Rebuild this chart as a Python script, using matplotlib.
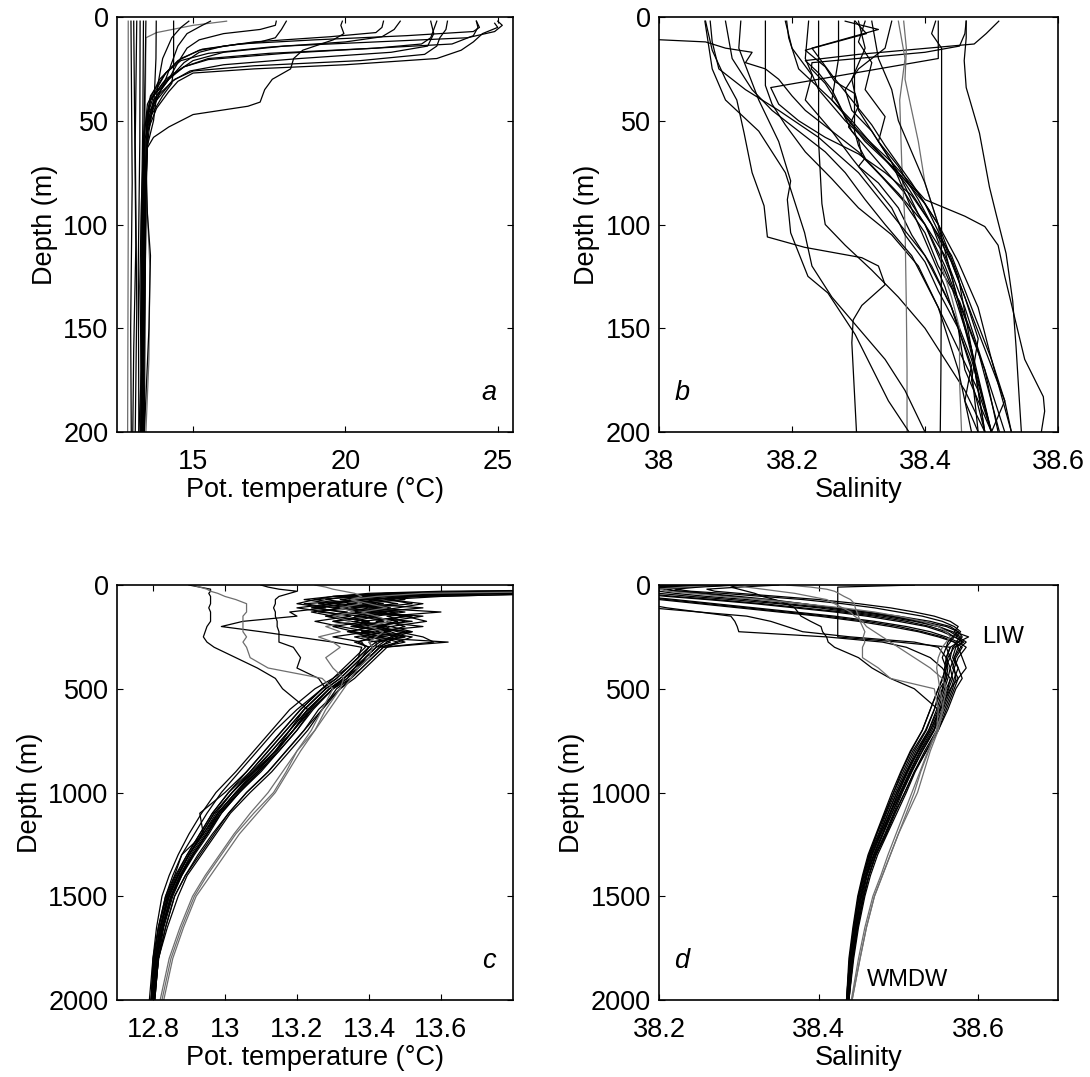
import matplotlib
matplotlib.use("Agg")
import matplotlib.pyplot as plt

plt.rcParams["font.family"] = ["Liberation Sans", "DejaVu Sans"]

BLACK = "#000000"
GRAY = "#6e6e6e"

# ---- panel a: potential temperature, upper 200 m (T list, depth list) ----
TEMP_A = [
    [25.0, 25.15, 24.9, 24.0, 21.0, 18.0, 16.0, 15.0, 14.5, 14.0, 13.6, 13.4, 13.35, 13.3, 13.32],
    [24.3, 24.35, 24.2, 23.5, 21.0, 17.5, 15.5, 14.7, 14.2, 13.7, 13.45, 13.35, 13.3],
    [23.35, 23.3, 23.1, 23.0, 22.6, 20.5, 17.0, 15.0, 14.4, 13.9, 13.55, 13.4, 13.38, 13.35],
    [23.0, 22.9, 22.8, 22.5, 21.0, 18.0, 15.5, 14.7, 14.1, 13.6, 13.4, 13.32, 13.3],
    [24.9, 25.0, 24.5, 24.2, 23.8, 23.0, 20.0, 17.0, 15.0, 14.5, 14.2, 13.8, 13.5, 13.4, 13.35],
    [21.8, 21.6, 21.2, 20.0, 17.5, 15.5, 14.6, 14.1, 13.6, 13.4, 13.35, 13.3],
    [21.25, 21.2, 21.0, 19.5, 17.0, 15.3, 14.6, 14.1, 13.6, 13.4, 13.35],
    [19.9, 19.85, 19.95, 19.6, 18.6, 18.3, 18.2, 17.6, 17.35, 17.2, 16.8, 15.0, 14.2, 13.7, 13.5, 13.45, 13.4],
    [18.06, 17.9, 17.7, 17.2, 16.0, 15.2, 14.7, 14.2, 13.7, 13.45, 13.35, 13.3],
    [17.73, 17.7, 17.2, 16.0, 15.2, 14.8, 14.5, 14.2, 13.8, 13.5, 13.35],
    [16.1, 15.0, 13.8, 13.45, 13.42, 13.5, 13.58, 13.55, 13.45],
    [15.57, 15.3, 14.8, 14.5, 14.3, 14.1, 13.8, 13.5, 13.3],
    [14.86, 14.6, 14.3, 14.0, 13.85, 13.7, 13.5, 13.4, 13.35],
    [14.36, 14.36, 14.3, 14.0, 13.6, 13.4, 13.3],
    [13.79, 13.78, 13.72, 13.55, 13.45, 13.5, 13.6, 13.55, 13.4],
    [13.37, 13.35, 13.3, 13.28],
    [13.26, 13.25, 13.2, 13.22],
    [13.15, 13.1, 13.15, 13.1],
    [12.96, 13.0, 12.95, 12.97],
    [12.87, 12.87, 12.85],
    [24.3, 24.4, 24.2, 22.0, 19.0, 16.5, 15.2, 14.5, 13.9, 13.5, 13.38, 13.3],
    [22.8, 22.9, 22.7, 21.5, 18.5, 16.0, 14.9, 14.3, 13.7, 13.45, 13.35],
    [13.45, 13.42, 13.38, 13.3, 13.25, 13.3, 13.22],
    [13.05, 13.08, 13.12, 13.05, 13.02],
]
DEPTH_A = [
    [2, 4, 7, 10, 12, 14, 17, 21, 26, 32, 40, 52, 80, 130, 200],
    [2, 5, 9, 13, 15, 17.5, 20, 24, 30, 38, 50, 110, 200],
    [2, 6, 10, 14, 18, 21, 23.5, 26, 30, 37, 46, 60, 120, 200],
    [2, 6, 10, 13, 15, 17.5, 20.5, 24, 30, 40, 55, 120, 200],
    [3, 5, 8, 12, 16, 20, 23, 25, 27, 31, 36, 44, 55, 100, 200],
    [2, 6, 9.5, 12, 14.5, 17.5, 21, 27, 38, 55, 120, 200],
    [2, 5, 7.5, 9.5, 12, 15.5, 20, 27, 40, 60, 200],
    [2, 4, 8, 11, 16, 20, 25, 30, 35, 41, 43, 47, 53, 58, 63, 80, 200],
    [2, 6, 10, 12, 14, 17, 22, 30, 40, 55, 120, 200],
    [2, 4, 6, 8, 11, 15, 22, 30, 38, 50, 200],
    [2, 4, 7.5, 10, 60, 95, 120, 165, 200],
    [2, 4, 8, 14, 22, 30, 40, 52, 200],
    [2, 5, 10, 20, 32, 50, 62, 100, 200],
    [2, 25, 32, 38, 48, 60, 200],
    [2, 20, 40, 55, 70, 95, 115, 150, 200],
    [2, 50, 100, 200],
    [2, 60, 120, 200],
    [2, 60, 140, 200],
    [2, 80, 150, 200],
    [2, 100, 200],
    [2, 5, 7, 9, 11, 13, 16, 21, 30, 42, 60, 200],
    [2, 8, 14, 17, 20, 23, 26, 31, 42, 60, 200],
    [2, 30, 60, 90, 130, 170, 200],
    [2, 50, 110, 160, 200],
]
COLOR_A = ["k"] * 10 + ["g"] + ["k"] * 8 + ["g"] + ["k"] * 4

# ---- panel b: salinity, upper 200 m ----
SAL_B = [
    [38.07, 38.08, 38.10, 38.117, 38.128, 38.14, 38.158, 38.163, 38.219, 38.305, 38.33, 38.34, 38.305, 38.292, 38.29, 38.297],
    [37.97, 38.07, 38.10, 38.14, 38.13, 38.16, 38.18, 38.20, 38.22, 38.26, 38.30, 38.33, 38.36, 38.40, 38.44, 38.47, 38.50],
    [38.16, 38.16, 38.17, 38.19, 38.22, 38.26, 38.30, 38.35, 38.39, 38.42, 38.45, 38.48, 38.50],
    [38.24, 38.24, 38.245, 38.25, 38.28, 38.32, 38.36, 38.40, 38.43, 38.46, 38.49],
    [38.294, 38.294, 38.30, 38.31, 38.30, 38.33, 38.36, 38.38, 38.41, 38.44, 38.47, 38.50],
    [38.295, 38.312, 38.22, 38.25, 38.264, 38.295, 38.30, 38.285, 38.30, 38.305, 38.335, 38.366, 38.40, 38.42, 38.452, 38.48, 38.512],
    [38.462, 38.46, 38.452, 38.40, 38.23, 38.229, 38.25, 38.27, 38.29, 38.33, 38.37, 38.40, 38.43, 38.46, 38.49, 38.52],
    [38.511, 38.492, 38.474, 38.30, 38.22, 38.24, 38.26, 38.28, 38.31, 38.35, 38.39, 38.42, 38.45, 38.48, 38.50, 38.53],
    [38.42, 38.42, 38.168, 38.18, 38.21, 38.25, 38.30, 38.34, 38.38, 38.41, 38.44, 38.47, 38.49],
    [38.368, 38.372, 38.37, 38.38, 38.39, 38.40, 38.42, 38.425, 38.44, 38.452, 38.452, 38.455],
    [38.36, 38.37, 38.362, 38.365, 38.37, 38.372, 38.373, 38.373],
    [38.416, 38.41, 38.425, 38.425, 38.424, 38.423],
    [38.462, 38.462, 38.459, 38.462, 38.472, 38.482, 38.497, 38.507, 38.522, 38.532, 38.537, 38.542, 38.545],
    [38.192, 38.195, 38.21, 38.26, 38.30, 38.35, 38.40, 38.46, 38.49, 38.51, 38.52, 38.535, 38.55, 38.578, 38.58, 38.575],
    [38.123, 38.12, 38.15, 38.18, 38.198, 38.193, 38.198, 38.224, 38.254, 38.295, 38.345, 38.376],
    [38.069, 38.08, 38.10, 38.15, 38.19, 38.219, 38.23, 38.26, 38.30, 38.34, 38.37, 38.40],
    [38.27, 38.27, 38.26, 38.29, 38.33, 38.37, 38.40, 38.44, 38.47, 38.50, 38.52, 38.50],
    [38.32, 38.33, 38.35, 38.36, 38.38, 38.40, 38.42, 38.44, 38.46, 38.48, 38.50],
    [38.30, 38.31, 38.29, 38.30, 38.33, 38.36, 38.39, 38.43, 38.46, 38.49, 38.51],
    [38.28, 38.33, 38.23, 38.26, 38.29, 38.32, 38.34, 38.38, 38.42, 38.45, 38.47, 38.49],
    [38.077, 38.08, 38.09, 38.13, 38.18, 38.24, 38.30, 38.35, 38.40, 38.44, 38.47, 38.48],
    [38.225, 38.22, 38.24, 38.28, 38.32, 38.36, 38.40, 38.43, 38.46, 38.49, 38.52, 38.53],
    [38.31, 38.30, 38.32, 38.31, 38.34, 38.33, 38.36, 38.39, 38.41, 38.44, 38.46, 38.48, 38.47, 38.49],
    [38.19, 38.20, 38.23, 38.22, 38.26, 38.29, 38.32, 38.35, 38.37, 38.40, 38.42, 38.45, 38.47, 38.46, 38.48],
    [38.35, 38.34, 38.30, 38.28, 38.29, 38.32, 38.35, 38.37, 38.39, 38.41, 38.43, 38.45, 38.46, 38.50],
    [38.10, 38.11, 38.14, 38.17, 38.21, 38.25, 38.28, 38.31, 38.34, 38.38, 38.42, 38.45, 38.47],
]
DEPTH_B = [
    [2, 16, 30, 40, 56, 75, 91, 106, 111, 116, 120, 129, 139, 146, 157, 200],
    [10.5, 12, 15, 17, 22, 25, 30, 38, 45, 55, 65, 75, 85, 100, 130, 160, 200],
    [2, 33, 42, 52, 65, 78, 92, 105, 120, 140, 160, 180, 200],
    [2, 60, 90, 100, 110, 122, 135, 150, 165, 180, 200],
    [2, 55, 62, 68, 72, 80, 92, 105, 120, 140, 165, 200],
    [2, 8, 16, 24, 31, 37, 43, 53, 59, 67, 77, 88, 104, 120, 137, 161, 200],
    [2, 8, 14, 17, 22, 25, 32, 42, 55, 70, 85, 100, 120, 145, 170, 200],
    [2, 8, 13, 18, 21, 27, 35, 48, 60, 72, 85, 100, 118, 140, 165, 200],
    [2, 20, 34, 42, 50, 58, 66, 75, 86, 100, 125, 160, 200],
    [2, 15, 30, 45, 60, 80, 100, 120, 135, 150, 175, 200],
    [2, 20, 40, 70, 100, 140, 170, 200],
    [2, 8, 15, 100, 170, 200],
    [2, 10, 21, 34, 45, 56, 82, 95, 114, 137, 159, 185, 200],
    [2, 10, 25, 40, 55, 70, 88, 96, 101, 110, 125, 145, 165, 183, 190, 200],
    [2, 15, 40, 60, 79, 88, 104, 125, 133, 153, 185, 200],
    [2, 25, 40, 55, 75, 104, 120, 135, 150, 165, 180, 200],
    [2, 20, 40, 50, 65, 80, 95, 115, 140, 165, 185, 200],
    [2, 20, 35, 50, 65, 80, 100, 125, 150, 175, 200],
    [2, 15, 30, 45, 60, 75, 95, 115, 140, 170, 200],
    [2, 6, 15, 28, 40, 52, 62, 80, 100, 125, 160, 200],
    [2, 12, 25, 35, 45, 58, 75, 95, 115, 140, 170, 200],
    [2, 20, 35, 50, 62, 75, 90, 110, 135, 160, 185, 200],
    [2, 12, 22, 35, 48, 60, 72, 88, 100, 118, 135, 155, 175, 200],
    [2, 15, 28, 40, 55, 68, 80, 92, 105, 118, 132, 150, 168, 185, 200],
    [2, 15, 25, 35, 45, 55, 70, 85, 100, 115, 130, 150, 170, 200],
    [2, 20, 35, 45, 55, 65, 75, 88, 100, 115, 140, 170, 200],
]
COLOR_B = ["k"] * 9 + ["g", "g"] + ["k"] * 15

# ---- panels c and d: full 2000 m profiles on a common depth grid ----
DEPTH_CD = [0, 10, 20, 30, 40, 55, 70, 90, 110, 130, 150, 175, 200, 225, 250, 275, 300,
            350, 400, 450, 500, 600, 700, 800, 900, 1000, 1100, 1200, 1300, 1400, 1500,
            1650, 1800, 2000]

TEMP_C = [
    [22.0, 20.0, 15.0, 13.9, 13.5, 13.42, 13.35, 13.30, 13.38, 13.45, 13.40, 13.48, 13.42, 13.50, 13.46, 13.44, 13.42, 13.39, 13.36, 13.33, 13.29, 13.23, 13.19, 13.14, 13.09, 13.03, 12.98, 12.945, 12.905, 12.875, 12.85, 12.825, 12.81, 12.80],
    [24.0, 22.0, 17.0, 14.2, 13.6, 13.38, 13.25, 13.32, 13.45, 13.35, 13.5, 13.42, 13.55, 13.4, 13.48, 13.45, 13.43, 13.40, 13.37, 13.35, 13.31, 13.27, 13.23, 13.18, 13.13, 13.07, 13.015, 12.975, 12.935, 12.895, 12.87, 12.84, 12.815, 12.805],
    [20.0, 18.5, 14.5, 13.7, 13.45, 13.3, 13.4, 13.22, 13.3, 13.4, 13.28, 13.35, 13.45, 13.38, 13.5, 13.4, 13.41, 13.38, 13.35, 13.32, 13.28, 13.22, 13.17, 13.12, 13.07, 13.01, 12.965, 12.93, 12.895, 12.865, 12.84, 12.82, 12.805, 12.795],
    [25.0, 23.5, 19.0, 15.0, 13.8, 13.5, 13.45, 13.52, 13.4, 13.6, 13.45, 13.5, 13.42, 13.48, 13.55, 13.58, 13.44, 13.41, 13.38, 13.35, 13.30, 13.24, 13.20, 13.15, 13.10, 13.04, 12.99, 12.95, 12.91, 12.88, 12.855, 12.83, 12.815, 12.805],
    [21.0, 19.0, 16.0, 14.0, 13.55, 13.35, 13.28, 13.36, 13.25, 13.32, 13.42, 13.3, 13.38, 13.46, 13.36, 13.42, 13.40, 13.37, 13.34, 13.31, 13.27, 13.21, 13.16, 13.11, 13.06, 13.00, 12.93, 12.94, 12.88, 12.86, 12.835, 12.815, 12.80, 12.795],
    [23.0, 21.0, 18.0, 14.6, 13.7, 13.45, 13.5, 13.38, 13.55, 13.42, 13.36, 13.52, 13.4, 13.35, 13.45, 13.5, 13.43, 13.40, 13.36, 13.34, 13.30, 13.245, 13.20, 13.15, 13.095, 13.04, 12.985, 12.95, 12.91, 12.875, 12.85, 12.825, 12.81, 12.80],
    [19.0, 17.0, 14.2, 13.6, 13.4, 13.3, 13.22, 13.3, 13.2, 13.28, 13.35, 13.25, 13.32, 13.4, 13.3, 13.38, 13.39, 13.36, 13.33, 13.30, 13.25, 13.18, 13.13, 13.08, 13.03, 12.975, 12.935, 12.90, 12.87, 12.845, 12.825, 12.81, 12.80, 12.79],
    [24.0, 22.5, 20.0, 16.0, 14.0, 13.55, 13.4, 13.48, 13.35, 13.42, 13.52, 13.38, 13.46, 13.42, 13.52, 13.48, 13.45, 13.42, 13.39, 13.36, 13.32, 13.26, 13.22, 13.17, 13.12, 13.06, 13.01, 12.965, 12.925, 12.89, 12.86, 12.835, 12.815, 12.805],
    [22.0, 20.5, 16.5, 14.3, 13.65, 13.4, 13.32, 13.42, 13.3, 13.48, 13.38, 13.44, 13.36, 13.52, 13.4, 13.46, 13.42, 13.39, 13.37, 13.33, 13.29, 13.23, 13.18, 13.13, 13.08, 13.02, 12.975, 12.94, 12.9, 12.87, 12.845, 12.82, 12.808, 12.798],
    [20.0, 18.0, 15.5, 13.95, 13.5, 13.32, 13.38, 13.26, 13.34, 13.24, 13.3, 13.4, 13.3, 13.36, 13.44, 13.36, 13.40, 13.38, 13.35, 13.32, 13.28, 13.22, 13.18, 13.13, 13.075, 13.02, 12.97, 12.935, 12.9, 12.87, 12.845, 12.822, 12.808, 12.80],
    [23.5, 22.0, 17.5, 14.4, 13.75, 13.5, 13.42, 13.35, 13.46, 13.38, 13.55, 13.45, 13.5, 13.44, 13.38, 13.62, 13.44, 13.41, 13.38, 13.35, 13.32, 13.27, 13.22, 13.17, 13.12, 13.06, 13.01, 12.97, 12.93, 12.89, 12.86, 12.835, 12.816, 12.803],
    [12.90, 12.93, 12.96, 12.96, 12.955, 12.96, 12.96, 12.96, 12.955, 12.96, 12.96, 12.96, 12.95, 12.945, 12.94, 12.95, 12.97, 13.03, 13.09, 13.14, 13.16, 13.23, 13.18, 13.14, 13.08, 13.03, 12.98, 12.94, 12.90, 12.87, 12.845, 12.82, 12.808, 12.798],
    [21.0, 19.0, 15.0, 13.8, 13.45, 13.3, 13.25, 13.2, 13.28, 13.18, 13.2, 13.05, 12.99, 13.1, 13.2, 13.3, 13.38, 13.37, 13.34, 13.31, 13.27, 13.20, 13.14, 13.09, 13.04, 12.99, 12.95, 12.915, 12.88, 12.855, 12.835, 12.815, 12.803, 12.795],
    [13.10, 13.12, 13.15, 13.2, 13.18, 13.15, 13.14, 13.14, 13.135, 13.14, 13.14, 13.145, 13.145, 13.15, 13.15, 13.15, 13.19, 13.21, 13.2, 13.26, 13.28, 13.22, 13.17, 13.12, 13.07, 13.02, 12.97, 12.935, 12.90, 12.868, 12.842, 12.82, 12.806, 12.797],
    [24.5, 23.0, 18.5, 15.5, 13.9, 13.6, 13.45, 13.55, 13.48, 13.4, 13.5, 13.56, 13.46, 13.52, 13.47, 13.43, 13.41, 13.38, 13.36, 13.33, 13.30, 13.24, 13.19, 13.14, 13.085, 13.03, 12.98, 12.95, 12.91, 12.875, 12.85, 12.825, 12.81, 12.80],
    [22.0, 20.0, 16.0, 14.1, 13.6, 13.45, 13.36, 13.44, 13.32, 13.26, 13.38, 13.3, 13.42, 13.34, 13.41, 13.37, 13.40, 13.37, 13.34, 13.30, 13.27, 13.21, 13.16, 13.11, 13.06, 13.01, 12.965, 12.93, 12.895, 12.862, 12.838, 12.816, 12.803, 12.795],
    [20.5, 19.0, 15.0, 13.85, 13.5, 13.4, 13.46, 13.34, 13.4, 13.5, 13.42, 13.36, 13.44, 13.38, 13.43, 13.48, 13.43, 13.40, 13.37, 13.34, 13.29, 13.235, 13.19, 13.14, 13.09, 13.035, 12.985, 12.95, 12.912, 12.878, 12.852, 12.828, 12.812, 12.802],
    [23.0, 21.5, 17.0, 14.5, 13.62, 13.5, 13.38, 13.3, 13.24, 13.34, 13.28, 13.4, 13.35, 13.46, 13.5, 13.42, 13.42, 13.39, 13.36, 13.33, 13.30, 13.24, 13.19, 13.145, 13.095, 13.04, 12.99, 12.955, 12.915, 12.88, 12.852, 12.828, 12.812, 12.802],
    [12.91, 12.93, 12.95, 12.96, 12.98, 13.0, 13.03, 13.06, 13.06, 13.06, 13.05, 13.05, 13.05, 13.05, 13.06, 13.05, 13.06, 13.07, 13.12, 13.27, 13.30, 13.27, 13.24, 13.20, 13.17, 13.135, 13.08, 13.03, 12.99, 12.95, 12.915, 12.88, 12.85, 12.825],
    [13.25, 13.28, 13.30, 13.33, 13.36, 13.38, 13.35, 13.38, 13.32, 13.36, 13.30, 13.35, 13.28, 13.32, 13.26, 13.30, 13.32, 13.28, 13.30, 13.33, 13.32, 13.28, 13.25, 13.21, 13.175, 13.14, 13.09, 13.04, 13.0, 12.96, 12.92, 12.885, 12.855, 12.83],
    [21.0, 19.0, 15.5, 14.0, 13.55, 13.42, 13.35, 13.4, 13.45, 13.38, 13.42, 13.46, 13.4, 13.44, 13.42, 13.4, 13.41, 13.40, 13.37, 13.35, 13.33, 13.29, 13.25, 13.20, 13.16, 13.12, 13.07, 13.025, 12.985, 12.945, 12.91, 12.875, 12.845, 12.82],
]
COLOR_C = ["k"] * 18 + ["g"] * 3

SAL_D = [
    [38.28, 38.22, 38.20, 38.23, 38.26, 38.30, 38.34, 38.38, 38.42, 38.46, 38.49, 38.53, 38.56, 38.575, 38.58, 38.575, 38.568, 38.565, 38.57, 38.566, 38.56, 38.552, 38.54, 38.525, 38.512, 38.50, 38.49, 38.478, 38.467, 38.46, 38.453, 38.446, 38.441, 38.437],
    [38.25, 38.20, 38.16, 38.15, 38.17, 38.21, 38.26, 38.32, 38.37, 38.42, 38.46, 38.50, 38.535, 38.555, 38.57, 38.582, 38.572, 38.568, 38.575, 38.57, 38.566, 38.556, 38.545, 38.53, 38.517, 38.505, 38.494, 38.483, 38.471, 38.463, 38.456, 38.449, 38.443, 38.438],
    [38.30, 38.25, 38.22, 38.24, 38.28, 38.33, 38.38, 38.43, 38.47, 38.50, 38.53, 38.555, 38.57, 38.578, 38.572, 38.58, 38.57, 38.562, 38.56, 38.558, 38.555, 38.545, 38.535, 38.52, 38.508, 38.496, 38.485, 38.475, 38.464, 38.456, 38.45, 38.444, 38.439, 38.436],
    [38.22, 38.18, 38.15, 38.14, 38.15, 38.18, 38.22, 38.27, 38.32, 38.37, 38.42, 38.47, 38.51, 38.54, 38.56, 38.575, 38.585, 38.575, 38.57, 38.572, 38.568, 38.558, 38.548, 38.533, 38.52, 38.508, 38.496, 38.485, 38.472, 38.463, 38.457, 38.449, 38.443, 38.438],
    [38.35, 38.30, 38.26, 38.27, 38.30, 38.35, 38.40, 38.45, 38.49, 38.52, 38.545, 38.565, 38.575, 38.57, 38.588, 38.575, 38.565, 38.56, 38.565, 38.562, 38.558, 38.55, 38.538, 38.522, 38.51, 38.498, 38.487, 38.477, 38.466, 38.458, 38.452, 38.446, 38.44, 38.436],
    [38.26, 38.21, 38.18, 38.18, 38.20, 38.24, 38.29, 38.35, 38.40, 38.44, 38.48, 38.52, 38.55, 38.565, 38.575, 38.585, 38.578, 38.57, 38.575, 38.58, 38.572, 38.562, 38.55, 38.535, 38.52, 38.508, 38.495, 38.484, 38.472, 38.463, 38.456, 38.448, 38.442, 38.437],
    [38.24, 38.19, 38.16, 38.16, 38.18, 38.22, 38.27, 38.33, 38.38, 38.43, 38.47, 38.51, 38.54, 38.56, 38.57, 38.565, 38.56, 38.555, 38.56, 38.555, 38.55, 38.54, 38.53, 38.515, 38.503, 38.492, 38.482, 38.472, 38.462, 38.455, 38.449, 38.443, 38.438, 38.435],
    [38.20, 38.15, 38.12, 38.11, 38.12, 38.14, 38.16, 38.18, 38.21, 38.25, 38.29, 38.295, 38.298, 38.30, 38.41, 38.48, 38.51, 38.54, 38.555, 38.565, 38.562, 38.552, 38.54, 38.525, 38.51, 38.498, 38.487, 38.476, 38.465, 38.457, 38.451, 38.445, 38.44, 38.436],
    [38.30, 38.29, 38.30, 38.31, 38.32, 38.33, 38.345, 38.36, 38.37, 38.374, 38.378, 38.39, 38.403, 38.405, 38.41, 38.412, 38.42, 38.45, 38.467, 38.49, 38.52, 38.55, 38.545, 38.53, 38.516, 38.504, 38.492, 38.48, 38.469, 38.46, 38.453, 38.447, 38.441, 38.437],
    [38.52, 38.424, 38.424, 38.424, 38.424, 38.424, 38.424, 38.424, 38.424, 38.424, 38.424, 38.424, 38.424, 38.424, 38.424, 38.50, 38.565, 38.56, 38.562, 38.56, 38.556, 38.548, 38.538, 38.524, 38.511, 38.50, 38.489, 38.478, 38.467, 38.459, 38.453, 38.446, 38.441, 38.437],
    [38.23, 38.17, 38.13, 38.12, 38.13, 38.16, 38.20, 38.25, 38.30, 38.35, 38.40, 38.45, 38.49, 38.525, 38.55, 38.57, 38.58, 38.572, 38.568, 38.575, 38.565, 38.553, 38.542, 38.527, 38.514, 38.502, 38.49, 38.48, 38.469, 38.46, 38.454, 38.447, 38.441, 38.437],
    [38.29, 38.24, 38.21, 38.22, 38.25, 38.29, 38.33, 38.38, 38.42, 38.46, 38.50, 38.54, 38.565, 38.575, 38.568, 38.562, 38.56, 38.565, 38.558, 38.56, 38.552, 38.545, 38.534, 38.518, 38.506, 38.494, 38.484, 38.473, 38.463, 38.456, 38.45, 38.444, 38.439, 38.435],
    [38.21, 38.17, 38.14, 38.13, 38.14, 38.17, 38.21, 38.26, 38.31, 38.36, 38.41, 38.46, 38.50, 38.53, 38.555, 38.57, 38.575, 38.58, 38.585, 38.575, 38.57, 38.56, 38.55, 38.535, 38.521, 38.51, 38.498, 38.486, 38.474, 38.465, 38.458, 38.45, 38.444, 38.438],
    [38.27, 38.23, 38.19, 38.20, 38.22, 38.26, 38.31, 38.36, 38.41, 38.45, 38.49, 38.525, 38.55, 38.568, 38.578, 38.572, 38.575, 38.57, 38.565, 38.568, 38.563, 38.555, 38.544, 38.528, 38.515, 38.503, 38.492, 38.481, 38.47, 38.461, 38.455, 38.448, 38.442, 38.437],
    [38.24, 38.20, 38.17, 38.15, 38.14, 38.14, 38.15, 38.17, 38.19, 38.25, 38.31, 38.34, 38.36, 38.38, 38.44, 38.52, 38.55, 38.56, 38.558, 38.556, 38.55, 38.54, 38.53, 38.516, 38.504, 38.494, 38.483, 38.473, 38.464, 38.456, 38.45, 38.444, 38.439, 38.435],
    [38.36, 38.39, 38.41, 38.42, 38.425, 38.432, 38.44, 38.445, 38.446, 38.448, 38.45, 38.452, 38.455, 38.458, 38.456, 38.458, 38.455, 38.455, 38.475, 38.49, 38.545, 38.55, 38.548, 38.538, 38.528, 38.52, 38.51, 38.50, 38.49, 38.48, 38.47, 38.46, 38.452, 38.442],
    [38.27, 38.23, 38.20, 38.21, 38.24, 38.28, 38.33, 38.38, 38.43, 38.47, 38.50, 38.53, 38.55, 38.56, 38.565, 38.56, 38.555, 38.55, 38.548, 38.55, 38.552, 38.556, 38.55, 38.54, 38.532, 38.524, 38.512, 38.50, 38.49, 38.48, 38.47, 38.46, 38.452, 38.442],
    [38.30, 38.31, 38.33, 38.35, 38.37, 38.39, 38.41, 38.42, 38.43, 38.44, 38.445, 38.455, 38.46, 38.47, 38.48, 38.49, 38.50, 38.52, 38.54, 38.555, 38.56, 38.555, 38.548, 38.537, 38.527, 38.517, 38.507, 38.497, 38.487, 38.478, 38.468, 38.458, 38.45, 38.441],
]
COLOR_D = ["k"] * 15 + ["g"] * 3

FS = 19.5


def style(ax, xlim, xticks, xticklabels, ymax, yticks, xlabel):
    ax.set_xlim(*xlim)
    ax.set_ylim(ymax, 0)
    ax.set_xticks(xticks)
    ax.set_xticklabels(xticklabels)
    ax.set_yticks(yticks)
    ax.tick_params(direction="in", top=True, right=True, length=4, width=0.8,
                   labelsize=FS)
    ax.tick_params(axis="x", pad=12)
    ax.tick_params(axis="y", pad=6)
    for s in ax.spines.values():
        s.set_linewidth(1.2)
    ax.set_xlabel(xlabel, fontsize=FS, labelpad=2)
    ax.set_ylabel("Depth (m)", fontsize=FS, labelpad=4)


def draw(ax, xs, ys, colors):
    for x, y, c in zip(xs, ys, colors):
        ax.plot(x, y, color=GRAY if c == "g" else BLACK, lw=0.9)


fig = plt.figure(figsize=(10.9, 10.77), dpi=100, facecolor="white")
axa = fig.add_axes([0.1073, 0.5989, 0.3633, 0.3853])
axb = fig.add_axes([0.6046, 0.5989, 0.366, 0.3853])
axc = fig.add_axes([0.1073, 0.0715, 0.3633, 0.3853])
axd = fig.add_axes([0.6046, 0.0715, 0.366, 0.3853])

draw(axa, TEMP_A, DEPTH_A, COLOR_A)
draw(axb, SAL_B, DEPTH_B, COLOR_B)
draw(axc, TEMP_C, [DEPTH_CD] * len(TEMP_C), COLOR_C)
draw(axd, SAL_D, [DEPTH_CD] * len(SAL_D), COLOR_D)

style(axa, (12.5, 25.5), [15, 20, 25], ["15", "20", "25"], 200,
      [0, 50, 100, 150, 200], "Pot. temperature (°C)")
style(axb, (38.0, 38.6), [38.0, 38.2, 38.4, 38.6], ["38", "38.2", "38.4", "38.6"], 200,
      [0, 50, 100, 150, 200], "Salinity")
style(axc, (12.7, 13.8), [12.8, 13.0, 13.2, 13.4, 13.6],
      ["12.8", "13", "13.2", "13.4", "13.6"], 2000,
      [0, 500, 1000, 1500, 2000], "Pot. temperature (°C)")
style(axd, (38.2, 38.7), [38.2, 38.4, 38.6], ["38.2", "38.4", "38.6"], 2000,
      [0, 500, 1000, 1500, 2000], "Salinity")

for ax, letter, xa in [(axa, "a", 0.94), (axb, "b", 0.057), (axc, "c", 0.94), (axd, "d", 0.057)]:
    ax.text(xa, 0.093, letter, transform=ax.transAxes, fontsize=FS, style="italic",
            ha="center", va="center")

axd.text(38.605, 250, "LIW", fontsize=17, ha="left", va="center")
axd.text(38.46, 1905, "WMDW", fontsize=17, ha="left", va="center")

fig.savefig("out.png", dpi=100, facecolor="white")
